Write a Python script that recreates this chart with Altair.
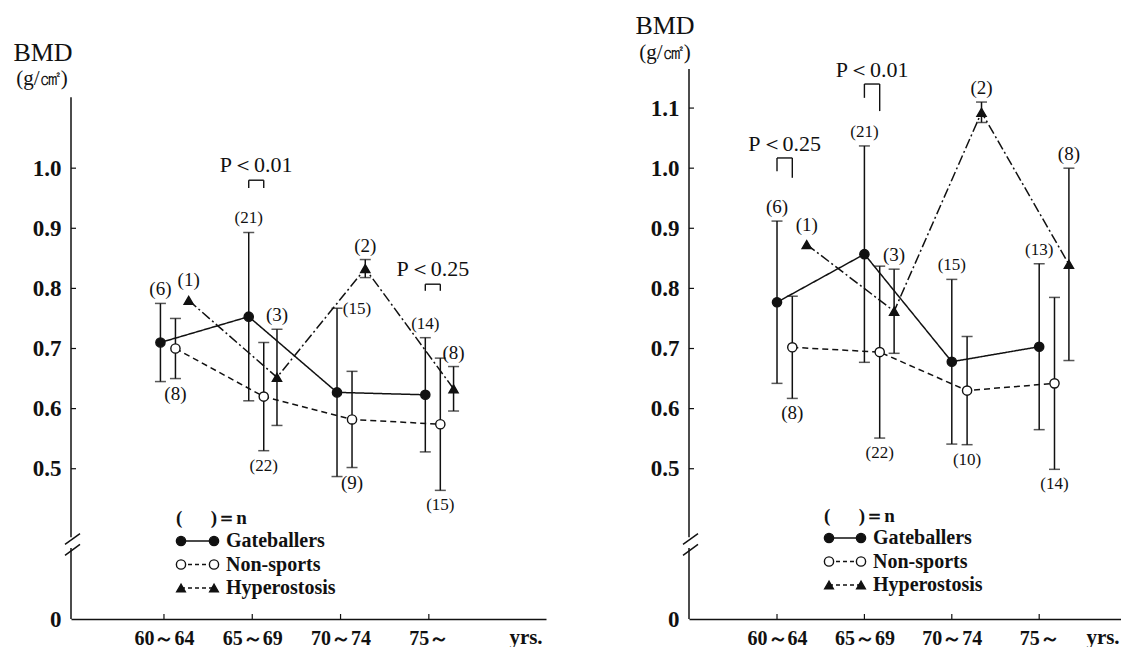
import json
import altair as alt
import pandas as pd

# ---------------- data ----------------
groups = ["60～64", "65～69", "70～74", "75～"]
series_names = ["Gateballers", "Non-sports", "Hyperostosis"]

left_gb_mean = [0.710, 0.753, 0.627, 0.623]
left_gb_sd = [0.065, 0.140, 0.140, 0.095]
left_gb_n = [6, 21, 15, 14]
left_ns_mean = [0.700, 0.620, 0.582, 0.574]
left_ns_sd = [0.050, 0.090, 0.080, 0.110]
left_ns_n = [8, 22, 9, 15]
left_hy_mean = [0.780, 0.652, 0.833, 0.633]
left_hy_sd = [None, 0.080, 0.015, 0.037]
left_hy_n = [1, 3, 2, 8]

right_gb_mean = [0.777, 0.857, 0.678, 0.703]
right_gb_sd = [0.135, 0.180, 0.137, 0.138]
right_gb_n = [6, 21, 15, 13]
right_ns_mean = [0.702, 0.694, 0.630, 0.642]
right_ns_sd = [0.085, 0.143, 0.090, 0.143]
right_ns_n = [8, 22, 10, 14]
right_hy_mean = [0.873, 0.762, 1.093, 0.840]
right_hy_sd = [None, 0.070, 0.017, 0.160]
right_hy_n = [1, 3, 2, 8]

left_y_ticks = [0.5, 0.6, 0.7, 0.8, 0.9, 1.0]
right_y_ticks = [0.5, 0.6, 0.7, 0.8, 0.9, 1.0, 1.1]

left_sig_text = ["P＜0.01", "P＜0.25"]
left_sig_group = [1, 3]
right_sig_text = ["P＜0.25", "P＜0.01"]
right_sig_group = [0, 1]

# ---------------- layout / style ----------------
FONT = "Liberation Serif"
INK = "#111111"
H = 550
AXIS_ZERO = 0.25          # value where the broken axis shows "0"
YDOMAIN = [AXIS_ZERO, 1.165]
BREAK = (0.368, 0.386)

PANEL = {
    "L": dict(width=475, xdomain=[-1.053, 4.327], axis_top=1.118,
              offsets={"Gateballers": -0.04, "Non-sports": 0.13, "Hyperostosis": 0.28},
              bmd=(-28, -16), unit=(-29, 10), yrs=455,
              sig=[(0.980, 0.967, 0.967, 1.005), (0.807, 0.796, 0.796, 0.832)],
              legend=dict(head=(105, 449), rows=[472, 495.5, 519], s1=110, s2=143, tx=155)),
    "R": dict(width=432, xdomain=[-1.007, 3.936], axis_top=1.165,
              offsets={"Gateballers": 0.0, "Non-sports": 0.175, "Hyperostosis": 0.34},
              bmd=(-24, -43), unit=(-24, -16), yrs=414,
              sig=[(1.017, 0.995, 0.984, 1.040), (1.140, 1.117, 1.095, 1.163)],
              legend=dict(head=(135, 447), rows=[469, 492.5, 516], s1=140, s2=172, tx=184)),
}
DEFAULT_PLACE = {"Gateballers": "above", "Non-sports": "below", "Hyperostosis": "above"}
PLACE_OVERRIDE = {("L", "Gateballers", 2): "right"}
PLACE_OFFS = {"above": (0, -14), "above_marker": (0, -20), "below": (0, 15), "right": (20, 1)}
DASH = {"Gateballers": [1, 0], "Non-sports": [6, 4], "Hyperostosis": [10, 3, 2, 3]}
LEG_DASH = {"Gateballers": [1, 0], "Non-sports": [4, 3], "Hyperostosis": [4, 3]}
SHAPE = {"Gateballers": "circle", "Non-sports": "circle", "Hyperostosis": "triangle-up"}
FILL = {"Gateballers": INK, "Non-sports": "white", "Hyperostosis": INK}
SIZE = {"Gateballers": 85, "Non-sports": 85, "Hyperostosis": 100}

one = pd.DataFrame({"k": [0]})


def make_panel(key, series_data, yticks, sig_text, sig_group):
    cfg = PANEL[key]
    off = cfg["offsets"]
    rows = []
    for s, (means, sds, ns) in series_data.items():
        for i in range(len(groups)):
            m, sd = means[i], sds[i]
            has = sd is not None
            place = PLACE_OVERRIDE.get((key, s, i), DEFAULT_PLACE[s])
            if place == "above" and not has:
                place = "above_marker"
            if not has:
                anchor = m
            elif place in ("above", "right"):
                anchor = m + sd
            else:
                anchor = m - sd
            rows.append(dict(series=s, gi=i, x=i + off[s], mean=m,
                             lo=(m - sd) if has else None, hi=(m + sd) if has else None,
                             anchor=anchor, lab=f"({ns[i]})",
                             fs=19 if ns[i] < 10 else 17, place=place))
    df = pd.DataFrame(rows)

    xs = alt.Scale(domain=cfg["xdomain"], nice=False, zero=False)
    ys = alt.Scale(domain=YDOMAIN, nice=False, zero=False)
    lab_arr = json.dumps(groups, ensure_ascii=False)
    xaxis = alt.Axis(values=list(range(len(groups))), labelExpr=f"{lab_arr}[datum.value]",
                     title=None, grid=False, ticks=False, tickSize=0, labelPadding=9,
                     labelFont=FONT, labelFontSize=20, labelFontWeight="bold",
                     labelColor=INK, domainColor=INK, domainWidth=1.5,
                     labelOverlap=False, labelFlush=False)
    yaxis = alt.Axis(values=[AXIS_ZERO] + yticks,
                     labelExpr=f"datum.value < {AXIS_ZERO + 0.05} ? '0' : format(datum.value, '.1f')",
                     title=None, grid=False, ticks=False, tickSize=0, domain=False,
                     labelPadding=10, labelFont=FONT, labelFontSize=23,
                     labelFontWeight="bold", labelColor=INK, labelOverlap=False,
                     labelFlush=False)

    def X(f):
        return alt.X(f"{f}:Q", scale=xs, axis=xaxis)

    def Y(f):
        return alt.Y(f"{f}:Q", scale=ys, axis=yaxis)

    dash_enc = alt.StrokeDash("series:N", scale=alt.Scale(domain=series_names,
                              range=[DASH[s] for s in series_names]), legend=None)

    layers = []
    # broken y axis line
    seg = pd.DataFrame({"y0": [AXIS_ZERO, BREAK[1]], "y1": [BREAK[0], cfg["axis_top"]]})
    layers.append(alt.Chart(seg).mark_rule(color=INK, strokeWidth=1.5).encode(
        x=alt.value(0), y=Y("y0"), y2="y1"))
    slash = pd.DataFrame({"a": [BREAK[0] - 0.012, BREAK[1] - 0.012],
                          "b": [BREAK[0] + 0.006, BREAK[1] + 0.006]})
    layers.append(alt.Chart(slash).mark_rule(color=INK, strokeWidth=1.5).encode(
        x=alt.value(-6), x2=alt.value(9), y=Y("a"), y2="b"))
    # inward ticks
    yt = pd.DataFrame({"t": yticks})
    layers.append(alt.Chart(yt).mark_rule(color=INK, strokeWidth=1.2).encode(
        x=alt.value(0), x2=alt.value(5), y=Y("t")))
    xt = pd.DataFrame({"g": list(range(len(groups)))})
    layers.append(alt.Chart(xt).mark_rule(color=INK, strokeWidth=1.2).encode(
        x=X("g"), y=alt.value(H), y2=alt.value(H - 5)))

    # series lines
    layers.append(alt.Chart(df).mark_line(color=INK, strokeWidth=1.5).encode(
        x=X("x"), y=Y("mean"), strokeDash=dash_enc, detail="series:N"))
    # error bars
    eb = alt.Chart(df).transform_filter("isValid(datum.lo)")
    layers.append(eb.mark_rule(color=INK, strokeWidth=1.5).encode(x=X("x"), y=Y("lo"), y2="hi"))
    layers.append(eb.mark_tick(color=INK, orient="horizontal", size=11, thickness=1.5).encode(
        x=X("x"), y=Y("lo")))
    layers.append(eb.mark_tick(color=INK, orient="horizontal", size=11, thickness=1.5).encode(
        x=X("x"), y=Y("hi")))
    # markers
    layers.append(alt.Chart(df).mark_point(filled=True, stroke=INK, strokeWidth=1.4, opacity=1).encode(
        x=X("x"), y=Y("mean"),
        shape=alt.Shape("series:N", scale=alt.Scale(domain=series_names,
                        range=[SHAPE[s] for s in series_names]), legend=None),
        fill=alt.Fill("series:N", scale=alt.Scale(domain=series_names,
                      range=[FILL[s] for s in series_names]), legend=None),
        size=alt.Size("series:N", scale=alt.Scale(domain=series_names,
                      range=[SIZE[s] for s in series_names]), legend=None)))
    # n labels
    for place, (dx, dy) in PLACE_OFFS.items():
        layers.append(alt.Chart(df).transform_filter(f"datum.place == '{place}'").mark_text(
            font=FONT, color=INK, align="center", baseline="middle", dx=dx, dy=dy).encode(
            x=X("x"), y=Y("anchor"), text="lab:N", size=alt.Size("fs:Q", scale=None)))

    # significance brackets
    srows = []
    for txt, g, geo in zip(sig_text, sig_group, cfg["sig"]):
        xl, xr = g + off["Gateballers"], g + off["Non-sports"]
        srows.append(dict(t=txt, xl=xl, xr=xr, xm=(xl + xr) / 2, top=geo[0],
                          lb=geo[1], rb=geo[2], ty=geo[3]))
    sdf = pd.DataFrame(srows)
    sc = alt.Chart(sdf)
    layers.append(sc.mark_rule(color=INK, strokeWidth=1.4).encode(x=X("xl"), x2="xr", y=Y("top")))
    layers.append(sc.mark_rule(color=INK, strokeWidth=1.4).encode(x=X("xl"), y=Y("top"), y2="lb"))
    layers.append(sc.mark_rule(color=INK, strokeWidth=1.4).encode(x=X("xr"), y=Y("top"), y2="rb"))
    layers.append(sc.mark_text(font=FONT, fontSize=22, color=INK, align="center",
                               baseline="middle").encode(x=X("xm"), y=Y("ty"), text="t:N"))

    # axis title and unit
    bx, by = cfg["bmd"]
    layers.append(alt.Chart(one).mark_text(text="BMD", font=FONT, fontSize=26, color=INK,
                                           align="center", baseline="middle").encode(
        x=alt.value(bx), y=alt.value(by)))
    ux, uy = cfg["unit"]
    layers.append(alt.Chart(one).mark_text(text="(g/㎠)", font=FONT, fontSize=21, color=INK,
                                           align="center", baseline="middle").encode(
        x=alt.value(ux), y=alt.value(uy)))
    layers.append(alt.Chart(one).mark_text(text="yrs.", font=FONT, fontSize=21, fontWeight="bold",
                                           color=INK, align="center", baseline="middle").encode(
        x=alt.value(cfg["yrs"]), y=alt.value(H + 19)))

    # hand-drawn style legend
    lg = cfg["legend"]
    hx, hy = lg["head"]
    layers.append(alt.Chart(one).mark_text(text="(\u2003\u2002)＝n", font=FONT, fontSize=19,
                                           fontWeight="bold", color=INK, align="left",
                                           baseline="middle").encode(
        x=alt.value(hx), y=alt.value(hy)))
    for s, ry in zip(series_names, lg["rows"]):
        layers.append(alt.Chart(one).mark_rule(color=INK, strokeWidth=1.5,
                                               strokeDash=LEG_DASH[s]).encode(
            x=alt.value(lg["s1"]), x2=alt.value(lg["s2"]), y=alt.value(ry)))
        for sx in (lg["s1"], lg["s2"]):
            layers.append(alt.Chart(one).mark_point(shape=SHAPE[s], filled=True, fill=FILL[s],
                                                    stroke=INK, strokeWidth=1.4, opacity=1,
                                                    size=SIZE[s] if s != "Hyperostosis" else 75).encode(
                x=alt.value(sx), y=alt.value(ry)))
        layers.append(alt.Chart(one).mark_text(text=s, font=FONT, fontSize=20, fontWeight="bold",
                                               color=INK, align="left", baseline="middle").encode(
            x=alt.value(lg["tx"]), y=alt.value(ry)))

    return alt.layer(*layers).properties(width=cfg["width"], height=H)


left = make_panel("L", {
    "Gateballers": (left_gb_mean, left_gb_sd, left_gb_n),
    "Non-sports": (left_ns_mean, left_ns_sd, left_ns_n),
    "Hyperostosis": (left_hy_mean, left_hy_sd, left_hy_n),
}, left_y_ticks, left_sig_text, left_sig_group)

right = make_panel("R", {
    "Gateballers": (right_gb_mean, right_gb_sd, right_gb_n),
    "Non-sports": (right_ns_mean, right_ns_sd, right_ns_n),
    "Hyperostosis": (right_hy_mean, right_hy_sd, right_hy_n),
}, right_y_ticks, right_sig_text, right_sig_group)

chart = alt.hconcat(left, right, spacing=143, bounds="flush").properties(
    padding={"left": 5, "top": 5, "right": 0, "bottom": 0},
    background="white",
).configure_view(stroke=None)

chart.save("out.html", embed_options={"renderer": "svg", "actions": False})
